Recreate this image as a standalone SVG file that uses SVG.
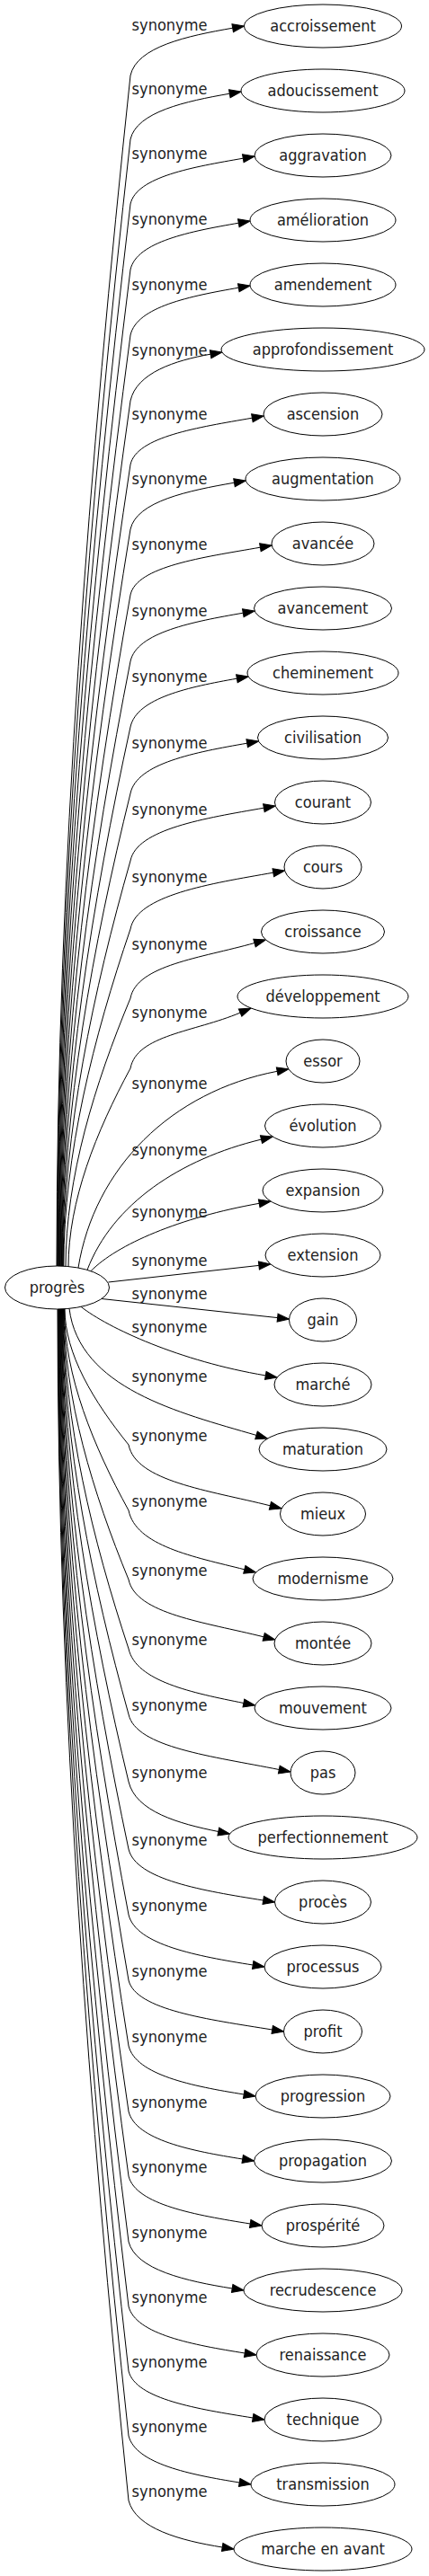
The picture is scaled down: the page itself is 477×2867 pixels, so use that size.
<svg xmlns="http://www.w3.org/2000/svg" width="477" height="2867" viewBox="0 0 477 2867">
<defs>
<style>
.n ellipse{fill:#fff;stroke:#000;stroke-width:1}
.n text,.lbl{font-family:"DejaVu Sans Condensed","DejaVu Sans",sans-serif;font-stretch:condensed;font-size:18px;fill:#222}
.n text{text-anchor:middle}
.lbl{text-anchor:middle}
.e{fill:none;stroke:#000;stroke-width:1;marker-end:url(#ah)}
</style>
<marker id="ah" markerUnits="userSpaceOnUse" markerWidth="13" markerHeight="9" viewBox="0 0 13 9" refX="0" refY="4.5" orient="auto" overflow="visible">
<path d="M0,0 L13,4.5 L0,9 z" fill="#000" stroke="#000" stroke-width="1"/>
</marker>
</defs>
<rect width="477" height="2867" fill="#fff"/>
<g id="connectors">
<path class="e" d="M63,1409 C63,972 100,508 145,84 C152,52 208.3,40 258.7,31.2"/>
<path class="e" d="M63.6,1409 C63.6,995 100.2,556 145,155 C152,124.5 206.4,112.7 255.3,104.2"/>
<path class="e" d="M64.2,1409 C64.2,1019 100.6,605 145,227 C152,196.5 214.8,185.9 270.3,176.2"/>
<path class="e" d="M64.8,1409 C64.8,1043 100.9,655 145,300 C152,268.9 212,257.5 265.3,248.2"/>
<path class="e" d="M65.4,1409 C65.4,1067 101.2,704.5 145,373 C152,341.3 212,329.5 265.3,320.2"/>
<path class="e" d="M66,1409 C66,1091 101.6,754 145,446 C152,414.9 194.6,401.1 234.1,394.2"/>
<path class="e" d="M66.6,1409 C66.6,1115 101.9,802 145,517 C152,485.9 220.4,475.7 280.4,465.2"/>
<path class="e" d="M67.2,1409 C67.2,1138.4 102.2,851.4 145,589 C152,557.9 209.3,546.1 260.5,537.2"/>
<path class="e" d="M67.8,1409 C67.8,1162.5 102.5,901 145,662 C152,630.3 225.4,620.4 289.4,609.2"/>
<path class="e" d="M68.4,1409 C68.4,1187 102.9,951 145,736 C152,703.7 214.8,691.9 270.3,682.2"/>
<path class="e" d="M69,1409 C69,1211 103.2,1001 145,809 C152,776.7 210.9,764.4 263.4,755.2"/>
<path class="e" d="M69.6,1409 C69.6,1235.4 103.5,1051.3 145,883 C152,849.5 217.2,837.2 274.7,827.2"/>
<path class="e" d="M70.2,1409 C70.2,1260.2 103.9,1102.3 145,958 C152,922.7 227.7,910.7 293.4,899.2"/>
<path class="e" d="M70.8,1409 C70.8,1285.2 104.2,1154 145,1034 C152,996.3 233.5,983.5 303.8,971.2"/>
<path class="e" d="M73,1409.5 C73,1310.7 105.4,1206.4 145,1111 C152,1074.1 223.2,1066.3 283,1049.5"/>
<path class="e" d="M76,1410 C76,1336.4 107,1259.4 145,1189 C152,1151.9 216.5,1148.5 267.1,1127.1"/>
<path class="e" d="M87,1411 C105,1300 190,1215 308.2,1192.3"/>
<path class="e" d="M97,1413.4 C125,1340 200,1290 290.5,1268.1"/>
<path class="e" d="M101,1414.7 C130,1385 200,1355 288.2,1339.3"/>
<path class="e" d="M120.5,1427 L287.9,1408.4"/>
<path class="e" d="M113,1445.5 L308.6,1466.6"/>
<path class="e" d="M90,1454.3 C120,1478 200,1515 295.3,1530.9"/>
<path class="e" d="M77,1456.3 C88,1545 198.6,1572.2 285,1597.4"/>
<path class="e" d="M72,1456.7 C72,1506.6 104,1559.6 143,1608 C151,1648.7 231.7,1658.6 300.4,1675.8"/>
<path class="e" d="M71.5,1456.7 C71.5,1530.7 103.7,1609.2 143,1681 C151,1720.5 215.5,1732.7 271.8,1746.8"/>
<path class="e" d="M71,1456.7 C71,1556.1 103.4,1661.6 143,1758 C151,1796.3 227.6,1805.4 293.2,1821.8"/>
<path class="e" d="M70.5,1456.7 C70.5,1581.5 103.1,1714 143,1835 C151,1871.3 214.4,1884.2 270.9,1895.5"/>
<path class="e" d="M70,1456.7 C70,1605.6 102.9,1763.6 143,1908 C151,1944.9 236.4,1954.7 310.3,1969.5"/>
<path class="e" d="M69.5,1456.7 C69.5,1630.4 102.7,1814.6 143,1983 C151,2016.3 198.8,2029.7 242.8,2038.5"/>
<path class="e" d="M69,1456.7 C69,1655.1 102.3,1865.6 143,2058 C151,2092.2 226.2,2104.4 292.7,2115"/>
<path class="e" d="M68.5,1456.7 C68.5,1679.2 102,1915.2 143,2131 C151,2164.6 219.8,2177.2 281.2,2187"/>
<path class="e" d="M68,1456.7 C68,1703.3 101.8,1964.9 143,2204 C151,2237 231.7,2247.6 302.7,2259"/>
<path class="e" d="M67.5,1456.7 C67.5,1727.4 101.5,2014.5 143,2277 C151,2309.4 214.2,2321.9 271.2,2331"/>
<path class="e" d="M67,1456.7 C67,1751.5 101.2,2064.1 143,2350 C151,2381.8 213.4,2394 269.7,2403"/>
<path class="e" d="M66.5,1456.7 C66.5,1775.2 100.9,2113.1 143,2422 C151,2453.8 218.2,2465.4 278.2,2475"/>
<path class="e" d="M66,1456.7 C66,1799.3 100.7,2162.7 143,2495 C151,2526.2 207.1,2538.8 258.2,2547"/>
<path class="e" d="M65.5,1456.7 C65.5,1823.1 100.4,2211.7 143,2567 C151,2598.2 214.9,2609.8 272.2,2619"/>
<path class="e" d="M65,1456.7 C65,1846.9 100.1,2260.7 143,2639 C151,2670.2 219.8,2681.2 281.2,2691"/>
<path class="e" d="M64.5,1456.7 C64.5,1870.6 99.8,2309.6 143,2711 C151,2742.2 211.5,2754.2 266.2,2763"/>
<path class="e" d="M64,1456.7 C64,1894.4 99.6,2358.6 143,2783 C151,2814.2 200.9,2827.6 247.2,2835"/>
<g class="labels">
<text class="lbl" x="188.5" y="34">synonyme</text>
<text class="lbl" x="188.5" y="105">synonyme</text>
<text class="lbl" x="188.5" y="177">synonyme</text>
<text class="lbl" x="188.5" y="250">synonyme</text>
<text class="lbl" x="188.5" y="323">synonyme</text>
<text class="lbl" x="188.5" y="396">synonyme</text>
<text class="lbl" x="188.5" y="467">synonyme</text>
<text class="lbl" x="188.5" y="539">synonyme</text>
<text class="lbl" x="188.5" y="612">synonyme</text>
<text class="lbl" x="188.5" y="686">synonyme</text>
<text class="lbl" x="188.5" y="759">synonyme</text>
<text class="lbl" x="188.5" y="833">synonyme</text>
<text class="lbl" x="188.5" y="907">synonyme</text>
<text class="lbl" x="188.5" y="982">synonyme</text>
<text class="lbl" x="188.5" y="1057">synonyme</text>
<text class="lbl" x="188.5" y="1133">synonyme</text>
<text class="lbl" x="188.5" y="1212">synonyme</text>
<text class="lbl" x="188.5" y="1286">synonyme</text>
<text class="lbl" x="188.5" y="1355">synonyme</text>
<text class="lbl" x="188.5" y="1409">synonyme</text>
<text class="lbl" x="188.5" y="1446">synonyme</text>
<text class="lbl" x="188.5" y="1483">synonyme</text>
<text class="lbl" x="188.5" y="1538">synonyme</text>
<text class="lbl" x="188.5" y="1604">synonyme</text>
<text class="lbl" x="188.5" y="1677">synonyme</text>
<text class="lbl" x="188.5" y="1754">synonyme</text>
<text class="lbl" x="188.5" y="1831">synonyme</text>
<text class="lbl" x="188.5" y="1904">synonyme</text>
<text class="lbl" x="188.5" y="1979">synonyme</text>
<text class="lbl" x="188.5" y="2054">synonyme</text>
<text class="lbl" x="188.5" y="2127">synonyme</text>
<text class="lbl" x="188.5" y="2200">synonyme</text>
<text class="lbl" x="188.5" y="2273">synonyme</text>
<text class="lbl" x="188.5" y="2346">synonyme</text>
<text class="lbl" x="188.5" y="2418">synonyme</text>
<text class="lbl" x="188.5" y="2491">synonyme</text>
<text class="lbl" x="188.5" y="2563">synonyme</text>
<text class="lbl" x="188.5" y="2635">synonyme</text>
<text class="lbl" x="188.5" y="2707">synonyme</text>
<text class="lbl" x="188.5" y="2779">synonyme</text>
</g>
</g>
<g id="node-progres" class="n"><ellipse cx="63.5" cy="1433" rx="58" ry="24"/><text x="63.5" y="1439">progrès</text></g>
<g id="node-accroissement" class="n"><ellipse cx="359" cy="29" rx="87.5" ry="24"/><text x="359" y="35">accroissement</text></g>
<g id="node-adoucissement" class="n"><ellipse cx="359" cy="101" rx="91" ry="24"/><text x="359" y="107">adoucissement</text></g>
<g id="node-aggravation" class="n"><ellipse cx="359" cy="173" rx="76" ry="24"/><text x="359" y="179">aggravation</text></g>
<g id="node-amelioration" class="n"><ellipse cx="359" cy="245" rx="81" ry="24"/><text x="359" y="251">amélioration</text></g>
<g id="node-amendement" class="n"><ellipse cx="359" cy="317" rx="81" ry="24"/><text x="359" y="323">amendement</text></g>
<g id="node-approfondissement" class="n"><ellipse cx="359" cy="389" rx="113" ry="24"/><text x="359" y="395">approfondissement</text></g>
<g id="node-ascension" class="n"><ellipse cx="359" cy="461" rx="66" ry="24"/><text x="359" y="467">ascension</text></g>
<g id="node-augmentation" class="n"><ellipse cx="359" cy="533" rx="86" ry="24"/><text x="359" y="539">augmentation</text></g>
<g id="node-avancee" class="n"><ellipse cx="359" cy="605" rx="57" ry="24"/><text x="359" y="611">avancée</text></g>
<g id="node-avancement" class="n"><ellipse cx="359" cy="677" rx="76.5" ry="24"/><text x="359" y="683">avancement</text></g>
<g id="node-cheminement" class="n"><ellipse cx="359" cy="749" rx="84" ry="24"/><text x="359" y="755">cheminement</text></g>
<g id="node-civilisation" class="n"><ellipse cx="359" cy="821" rx="72.5" ry="24"/><text x="359" y="827">civilisation</text></g>
<g id="node-courant" class="n"><ellipse cx="359" cy="893" rx="53.5" ry="24"/><text x="359" y="899">courant</text></g>
<g id="node-cours" class="n"><ellipse cx="359" cy="965" rx="43" ry="24"/><text x="359" y="971">cours</text></g>
<g id="node-croissance" class="n"><ellipse cx="359" cy="1037" rx="68.5" ry="24"/><text x="359" y="1043">croissance</text></g>
<g id="node-developpement" class="n"><ellipse cx="359" cy="1109" rx="95" ry="24"/><text x="359" y="1115">développement</text></g>
<g id="node-essor" class="n"><ellipse cx="359" cy="1181" rx="41" ry="24"/><text x="359" y="1187">essor</text></g>
<g id="node-evolution" class="n"><ellipse cx="359" cy="1253" rx="64.5" ry="24"/><text x="359" y="1259">évolution</text></g>
<g id="node-expansion" class="n"><ellipse cx="359" cy="1325" rx="67" ry="24"/><text x="359" y="1331">expansion</text></g>
<g id="node-extension" class="n"><ellipse cx="359" cy="1397" rx="64" ry="24"/><text x="359" y="1403">extension</text></g>
<g id="node-gain" class="n"><ellipse cx="359" cy="1469" rx="37.5" ry="24"/><text x="359" y="1475">gain</text></g>
<g id="node-marche" class="n"><ellipse cx="359" cy="1541" rx="54" ry="24"/><text x="359" y="1547">marché</text></g>
<g id="node-maturation" class="n"><ellipse cx="359" cy="1613" rx="71" ry="24"/><text x="359" y="1619">maturation</text></g>
<g id="node-mieux" class="n"><ellipse cx="359" cy="1685" rx="47.5" ry="24"/><text x="359" y="1691">mieux</text></g>
<g id="node-modernisme" class="n"><ellipse cx="359" cy="1757" rx="78" ry="24"/><text x="359" y="1763">modernisme</text></g>
<g id="node-montee" class="n"><ellipse cx="359" cy="1829" rx="54" ry="24"/><text x="359" y="1835">montée</text></g>
<g id="node-mouvement" class="n"><ellipse cx="359" cy="1901" rx="76" ry="24"/><text x="359" y="1907">mouvement</text></g>
<g id="node-pas" class="n"><ellipse cx="359" cy="1973" rx="36" ry="24"/><text x="359" y="1979">pas</text></g>
<g id="node-perfectionnement" class="n"><ellipse cx="359" cy="2045" rx="105" ry="24"/><text x="359" y="2051">perfectionnement</text></g>
<g id="node-proces" class="n"><ellipse cx="359" cy="2117" rx="53.5" ry="24"/><text x="359" y="2123">procès</text></g>
<g id="node-processus" class="n"><ellipse cx="359" cy="2189" rx="65" ry="24"/><text x="359" y="2195">processus</text></g>
<g id="node-profit" class="n"><ellipse cx="359" cy="2261" rx="43.5" ry="24"/><text x="359" y="2267">profit</text></g>
<g id="node-progression" class="n"><ellipse cx="359" cy="2333" rx="75" ry="24"/><text x="359" y="2339">progression</text></g>
<g id="node-propagation" class="n"><ellipse cx="359" cy="2405" rx="76.5" ry="24"/><text x="359" y="2411">propagation</text></g>
<g id="node-prosperite" class="n"><ellipse cx="359" cy="2477" rx="68" ry="24"/><text x="359" y="2483">prospérité</text></g>
<g id="node-recrudescence" class="n"><ellipse cx="359" cy="2549" rx="88" ry="24"/><text x="359" y="2555">recrudescence</text></g>
<g id="node-renaissance" class="n"><ellipse cx="359" cy="2621" rx="74" ry="24"/><text x="359" y="2627">renaissance</text></g>
<g id="node-technique" class="n"><ellipse cx="359" cy="2693" rx="65" ry="24"/><text x="359" y="2699">technique</text></g>
<g id="node-transmission" class="n"><ellipse cx="359" cy="2765" rx="80" ry="24"/><text x="359" y="2771">transmission</text></g>
<g id="node-marche-en-avant" class="n"><ellipse cx="359" cy="2837" rx="99" ry="24"/><text x="359" y="2843">marche en avant</text></g>
</svg>
